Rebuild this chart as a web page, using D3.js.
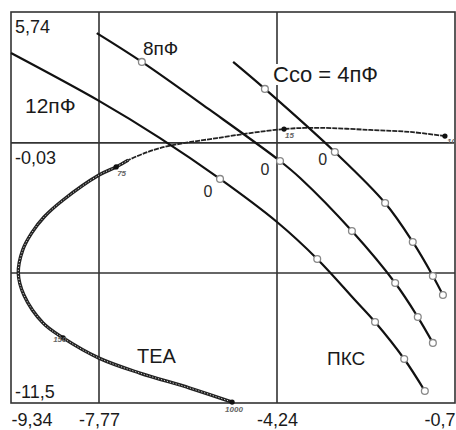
<!DOCTYPE html>
<html>
<head>
<meta charset="utf-8">
<script src="https://cdn.jsdelivr.net/npm/d3@7"></script>
<style>
  body { margin: 0; background: #fff; }
  svg { display: block; font-family: "Liberation Sans", Arial, sans-serif; }
  text { fill: #1a1a1a; }
</style>
</head>
<body>
<div id="chart"></div>
<script>
const xTicks = [-9.34, -7.77, -4.24, -0.7];
const yTicks = [5.74, -0.03, -11.5];
const gridX = [-7.77, -4.24];
const gridY = [-0.03, -5.77];

// Cco = 12 pF
const c12Re = [-9.34, -7.77, -6.56, -5.37, -4.24, -3.44, -2.69, -2.29, -1.71, -1.30];
const c12Im = [3.93, 1.82, 0.18, -1.62, -3.52, -5.15, -6.96, -7.93, -9.56, -10.97];
const c12Marks = [3, 5, 7, 8, 9];
const c12Zero = 3;

// Cco = 8 pF
const c8Re = [-7.81, -6.92, -5.57, -4.18, -3.78, -2.75, -1.89, -1.44, -1.14];
const c8Im = [4.81, 3.54, 1.42, -0.83, -1.58, -3.92, -6.21, -7.71, -8.85];
const c8Marks = [1, 3, 5, 6, 7, 8];
const c8Zero = 3;

// Cco = 4 pF
const c4Re = [-5.11, -4.48, -3.09, -2.09, -1.54, -1.14, -0.94];
const c4Im = [3.54, 2.35, -0.43, -2.68, -4.40, -5.90, -6.74];
const c4Marks = [1, 2, 3, 4, 5, 6];
const c4Zero = 2;

// TEA impedance curve
const teaRe = [-0.90, -1.59, -2.39, -3.38, -4.10, -5.43, -6.56, -7.19, -7.43, -7.77,
  -8.41, -8.75, -8.97, -9.13, -9.21, -9.11, -8.77, -8.41, -7.77, -6.96, -5.97, -5.13];
const teaIm = [0.27, 0.45, 0.54, 0.63, 0.58, 0.18, -0.26, -0.79, -1.09, -1.45,
  -2.55, -3.30, -4.00, -4.75, -5.77, -6.74, -7.97, -8.63, -9.52, -10.18, -10.84, -11.46];
const teaMarks = [0, 4, 8, 17, 21];
const teaLabels = ["10", "15", "75", "150", "1000"];

const width = 456;
const height = 430;
const box = { left: 11, top: 12, right: 455, bottom: 403 };

const fmt = d => String(d).replace(".", ",");

const svg = d3.select("#chart").append("svg")
  .attr("width", width)
  .attr("height", height);

const x = d3.scaleLinear()
  .domain(xTicks)
  .range([box.left, 99, 277, box.right]);

const y = d3.scaleLinear()
  .domain([yTicks[0], yTicks[2]])
  .range([box.top, box.bottom]);

// grid
svg.selectAll(".gx")
  .data(gridX)
  .enter()
  .append("line")
  .attr("x1", d => x(d)).attr("x2", d => x(d))
  .attr("y1", box.top).attr("y2", box.bottom)
  .attr("stroke", "#333").attr("stroke-width", 1.6);

svg.selectAll(".gy")
  .data(gridY)
  .enter()
  .append("line")
  .attr("y1", d => y(d)).attr("y2", d => y(d))
  .attr("x1", box.left).attr("x2", box.right)
  .attr("stroke", "#333").attr("stroke-width", 1.6);

svg.append("rect")
  .attr("x", box.left).attr("y", box.top)
  .attr("width", box.right - box.left).attr("height", box.bottom - box.top)
  .attr("fill", "none").attr("stroke", "#333").attr("stroke-width", 1.6);

// axes
const xAxis = svg.append("g")
  .attr("transform", `translate(0,${box.bottom})`)
  .call(d3.axisBottom(x).tickValues(xTicks).tickSize(0).tickPadding(10).tickFormat(fmt));
xAxis.select(".domain").remove();
xAxis.selectAll("text")
  .attr("font-size", 18)
  .attr("fill", "#1a1a1a")
  .attr("font-family", "Liberation Sans, Arial, sans-serif")
  .attr("text-anchor", (d, i) => i === 0 ? "start" : i === xTicks.length - 1 ? "end" : "middle");

const yAxis = svg.append("g")
  .attr("transform", `translate(15,0)`)
  .call(d3.axisRight(y).tickValues(yTicks).tickSize(0).tickPadding(0).tickFormat(fmt));
yAxis.select(".domain").remove();
yAxis.selectAll("text")
  .attr("font-size", 18)
  .attr("fill", "#1a1a1a")
  .attr("font-family", "Liberation Sans, Arial, sans-serif")
  .attr("dy", (d, i) => i === 2 ? -6 : 20.5);

// curves
const line = d3.line()
  .x(d => x(d[0]))
  .y(d => y(d[1]))
  .curve(d3.curveCatmullRom.alpha(0.5));

const zip = (re, im) => re.map((r, i) => [r, im[i]]);

const tea = zip(teaRe, teaIm);

svg.append("path")
  .attr("d", line(tea))
  .attr("fill", "none")
  .attr("stroke", "#222")
  .attr("stroke-width", 1.8)
  .attr("stroke-dasharray", "5,1");

svg.append("path")
  .attr("d", line(tea.slice(7)))
  .attr("fill", "none")
  .attr("stroke", "#222")
  .attr("stroke-width", 3.4);

svg.append("path")
  .attr("d", line(tea.slice(7)))
  .attr("fill", "none")
  .attr("stroke", "#e8e8e8")
  .attr("stroke-width", 0.9)
  .attr("stroke-dasharray", "1.2,1.8");

svg.selectAll(".tea-mark")
  .data(teaMarks)
  .enter()
  .append("circle")
  .attr("cx", i => x(teaRe[i]))
  .attr("cy", i => y(teaIm[i]))
  .attr("r", 2.6)
  .attr("fill", "#111");

const teaLabelShift = [[2, 8], [1, 9], [1, 9], [-10, 4], [-7, 10]];

svg.selectAll(".tea-label")
  .data(teaMarks)
  .enter()
  .append("text")
  .attr("x", (i, k) => x(teaRe[i]) + teaLabelShift[k][0])
  .attr("y", (i, k) => y(teaIm[i]) + teaLabelShift[k][1])
  .attr("font-size", 8)
  .attr("font-style", "italic")
  .attr("font-weight", "bold")
  .style("fill", "#666")
  .text((d, k) => teaLabels[k]);

const series = [
  { re: c12Re, im: c12Im, marks: c12Marks, zero: c12Zero, dx: -12, dy: 18 },
  { re: c8Re, im: c8Im, marks: c8Marks, zero: c8Zero, dx: -15, dy: 14 },
  { re: c4Re, im: c4Im, marks: c4Marks, zero: c4Zero, dx: -12, dy: 13 }
];

series.forEach(s => {
  svg.append("path")
    .attr("d", line(zip(s.re, s.im)))
    .attr("fill", "none")
    .attr("stroke", "#111")
    .attr("stroke-width", 2.2);

  svg.selectAll(null)
    .data(s.marks)
    .enter()
    .append("circle")
    .attr("cx", i => x(s.re[i]))
    .attr("cy", i => y(s.im[i]))
    .attr("r", 3.4)
    .attr("fill", "#fff")
    .attr("stroke", "#888")
    .attr("stroke-width", 1.3);

  svg.append("text")
    .attr("x", x(s.re[s.zero]) + s.dx)
    .attr("y", y(s.im[s.zero]) + s.dy)
    .attr("text-anchor", "middle")
    .attr("font-size", 16)
    .style("fill", "#2a2a2a")
    .text("0");
});

// labels
const cLabel = svg.append("text")
  .attr("x", 273)
  .attr("y", 82)
  .attr("font-size", 22)
  .text("Cco = 4пФ");
const bb = cLabel.node().getBBox();
svg.insert("rect", () => cLabel.node())
  .attr("x", bb.x - 1).attr("y", bb.y + 2)
  .attr("width", bb.width + 2).attr("height", bb.height - 4)
  .attr("fill", "#fff");

svg.append("text").attr("x", 25).attr("y", 113).attr("font-size", 21).text("12пФ");
svg.append("text").attr("x", 143).attr("y", 55).attr("font-size", 19).text("8пФ");
svg.append("text").attr("x", 137).attr("y", 363).attr("font-size", 20).text("TEA");
svg.append("text").attr("x", 327).attr("y", 365).attr("font-size", 19).text("ПКС");
</script>
</body>
</html>
